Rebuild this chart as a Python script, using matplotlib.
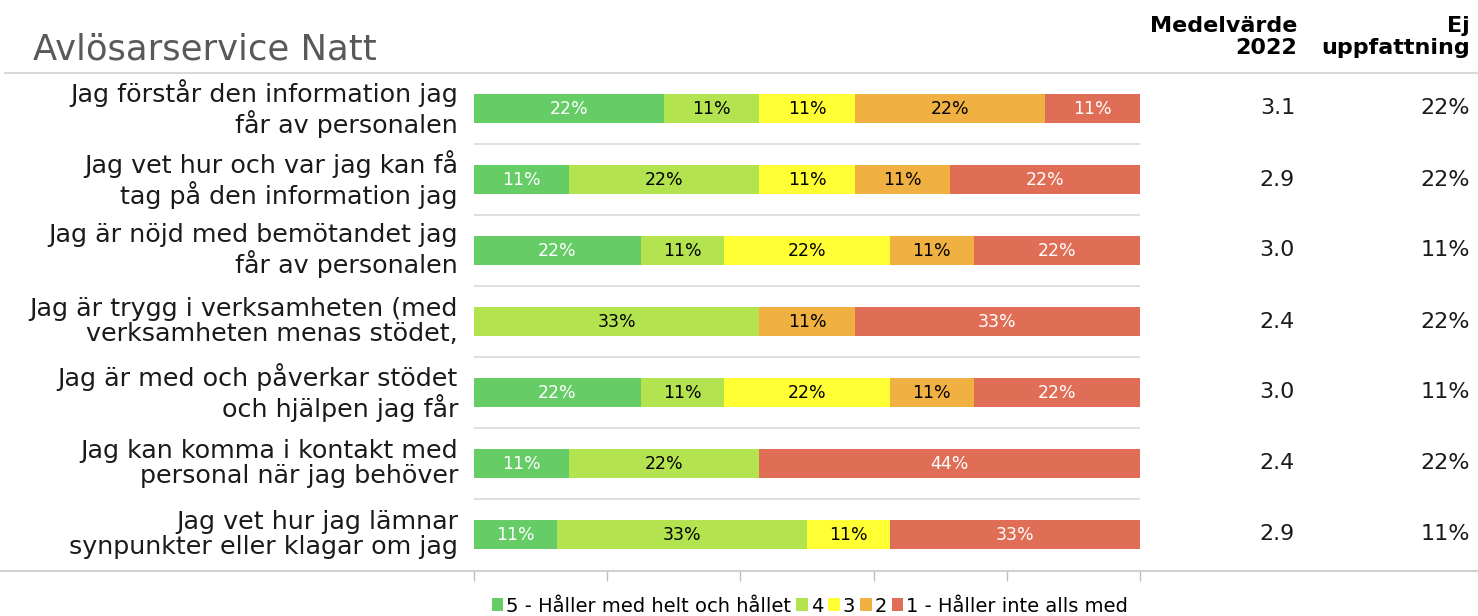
import numpy as np
import matplotlib
matplotlib.use('Agg')
import matplotlib.pyplot as plt
from matplotlib.patches import Patch
from matplotlib.lines import Line2D

questions = [
    'Jag förstår den information jag\nfår av personalen',
    'Jag vet hur och var jag kan få\ntag på den information jag',
    'Jag är nöjd med bemötandet jag\nfår av personalen',
    'Jag är trygg i verksamheten (med\nverksamheten menas stödet,',
    'Jag är med och påverkar stödet\noch hjälpen jag får',
    'Jag kan komma i kontakt med\npersonal när jag behöver',
    'Jag vet hur jag lämnar\nsynpunkter eller klagar om jag',
]
# andel svar per svarsalternativ (%)
p5 = [22, 11, 22, 0, 22, 11, 11]
p4 = [11, 22, 11, 33, 11, 22, 33]
p3 = [11, 11, 22, 0, 22, 0, 11]
p2 = [22, 11, 11, 11, 11, 0, 0]
p1 = [11, 22, 22, 33, 22, 44, 33]
mean_2022 = [3.1, 2.9, 3.0, 2.4, 3.0, 2.4, 2.9]
no_opinion = [22, 22, 11, 22, 11, 22, 11]

legend_labels = ['5 - Håller med helt och hållet', '4', '3', '2',
                 '1 - Håller inte alls med']
colors = ['#66CC66', '#B3E34F', '#FFFF33', '#F0B142', '#E06E56']
text_colors = ['white', 'black', 'black', 'black', 'white']

FONT = 'DejaVu Sans'
plt.rcParams['font.family'] = FONT

W, H = 1478, 616
fig = plt.figure(figsize=(W / 100, H / 100), dpi=100)


def fx(px):
    return px / W


def fy(py):
    return 1 - py / H


ax = fig.add_axes([fx(474), fy(570), fx(1140) - fx(474), fy(73) - fy(570)])

data = np.array([p5, p4, p3, p2, p1], dtype=float)
totals = data.sum(axis=0)
shares = data / totals * 100
y = np.arange(len(questions))

left = np.zeros(len(questions))
for k in range(5):
    ax.barh(y, shares[k], left=left, height=0.41, color=colors[k],
            edgecolor='none')
    for i in range(len(questions)):
        if data[k, i] > 0:
            ax.text(left[i] + shares[k, i] / 2, y[i], f'{int(data[k, i])}%',
                    ha='center', va='center', fontsize=12.5,
                    color=text_colors[k])
    left += shares[k]

ax.set_xlim(0, 100)
ax.set_ylim(len(questions) - 0.5, -0.5)
ax.set_yticks([])
ax.set_xticks(np.arange(0, 101, 20))
ax.set_xticklabels([])
ax.tick_params(axis='x', length=8, color='#BFBFBF', width=1)
for s in ['top', 'left', 'right', 'bottom']:
    ax.spines[s].set_visible(False)
for b in np.arange(0.5, len(questions) - 0.5, 1):
    ax.axhline(b, color='#D9D9D9', lw=1.2, zorder=0)

# linjer över hela bredden
fig.add_artist(Line2D([fx(5), 1], [fy(73), fy(73)], color='#D9D9D9', lw=1.5))
fig.add_artist(Line2D([0, 1], [fy(571), fy(571)], color='#D0D0D0', lw=1.5))

for i, q in enumerate(questions):
    yc = fy(73) - (i + 0.5) * (fy(73) - fy(570)) / len(questions)
    fig.text(fx(458), yc, q, ha='right', va='center', fontsize=18.3,
             color='#1a1a1a', linespacing=1.1)
    fig.text(fx(1295), yc, f'{mean_2022[i]:.1f}', ha='right', va='center',
             fontsize=16, color='#1a1a1a')
    fig.text(fx(1470), yc, f'{no_opinion[i]}%', ha='right', va='center',
             fontsize=16, color='#1a1a1a')

fig.text(fx(33), fy(50), 'Avlösarservice Natt', ha='left', va='center',
         fontsize=25.5, color='#595959')
fig.text(fx(1297), fy(37), 'Medelvärde\n2022', ha='right', va='center',
         fontsize=16, fontweight='bold', linespacing=1.15)
fig.text(fx(1470), fy(37), 'Ej\nuppfattning', ha='right', va='center',
         fontsize=16, fontweight='bold', linespacing=1.15)

handles = [Patch(facecolor=c, edgecolor='none') for c in colors]
fig.legend(handles, legend_labels, loc='center', ncol=5,
           bbox_to_anchor=(fx(810), fy(606)), frameon=False, fontsize=14,
           handlelength=0.6, handleheight=0.6, handletextpad=0.15,
           columnspacing=0.25, borderpad=0)

fig.savefig('out.png', dpi=100)
